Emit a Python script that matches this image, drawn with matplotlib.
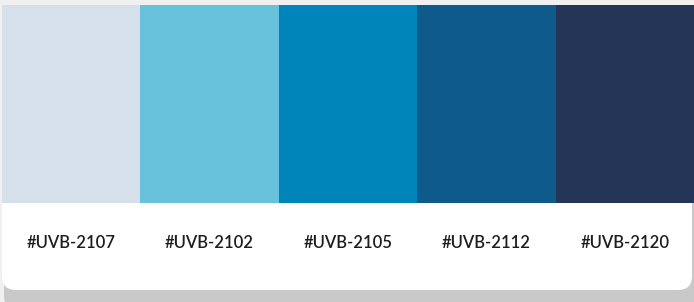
import matplotlib
matplotlib.use('Agg')
import matplotlib.pyplot as plt
from matplotlib.patches import FancyBboxPatch

# palette data
codes = ['#UVB-2107', '#UVB-2102', '#UVB-2105', '#UVB-2112', '#UVB-2120']
swatch_colors = ['#d6e0ea', '#68c2db', '#0085bb', '#0d5a8b', '#253558']

W, H = 694, 302
fig = plt.figure(figsize=(W / 100, H / 100), dpi=100)
fig.patch.set_facecolor('#f0f0f0')

# background layer in pixel coordinates (card + shadow)
bg = fig.add_axes([0, 0, 1, 1])
bg.set_xlim(0, W)
bg.set_ylim(H, 0)
bg.axis('off')
shadow = FancyBboxPatch((4, 200), 700, 110, boxstyle='round,pad=0,rounding_size=14',
                        facecolor='#c9c9c9', edgecolor='none')
bg.add_patch(shadow)
card = FancyBboxPatch((2, 5), 690, 285, boxstyle='round,pad=0,rounding_size=14',
                      facecolor='white', edgecolor='none')
bg.add_patch(card)

# swatches
left, right, top, bottom = 2, 694, 5, 203
ax = fig.add_axes([left / W, 1 - bottom / H, (right - left) / W, (bottom - top) / H])
ax.bar(range(len(codes)), 1, width=1, align='edge', color=swatch_colors, edgecolor='none')
ax.set_xlim(0, len(codes))
ax.set_ylim(0, 1)
ax.axis('off')

# labels under each swatch
for i, code in enumerate(codes):
    ax.text(i + 0.5, -40 / (bottom - top), code, ha='center', va='center',
            fontsize=12, family='Lato', weight='semibold', color='#1e1e1e',
            clip_on=False)

fig.savefig('out.png', dpi=100, facecolor=fig.get_facecolor())
